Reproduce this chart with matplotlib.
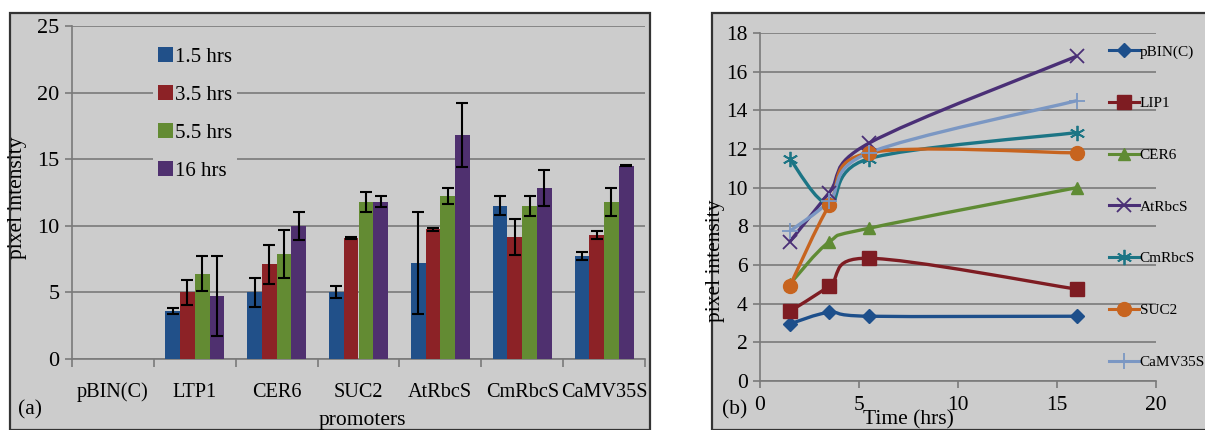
import matplotlib
matplotlib.use("Agg")
import matplotlib.pyplot as plt
import numpy as np
from matplotlib.patches import Rectangle, PathPatch
from matplotlib.path import Path

plt.rcParams['font.family'] = ['Liberation Serif', 'DejaVu Serif']

# ---- panel (a): bar chart data ----
promoters = ['pBIN(C)', 'LTP1', 'CER6', 'SUC2', 'AtRbcS', 'CmRbcS', 'CaMV35S']
bar_labels = ['1.5 hrs', '3.5 hrs', '5.5 hrs', '16 hrs']
h1_5 = [0, 3.6, 5.0, 5.0, 7.2, 11.5, 7.75]
h3_5 = [0, 5.0, 7.1, 9.1, 9.75, 9.15, 9.3]
h5_5 = [0, 6.4, 7.9, 11.8, 12.25, 11.5, 11.8]
h16 = [0, 4.7, 10.0, 11.8, 16.8, 12.85, 14.5]
err1_5 = [0, 0.2, 1.1, 0.45, 3.85, 0.7, 0.3]
err3_5 = [0, 0.95, 1.45, 0.08, 0.12, 1.35, 0.3]
err5_5 = [0, 1.3, 1.8, 0.75, 0.6, 0.75, 1.05]
err16 = [0, 3.0, 1.05, 0.4, 2.4, 1.35, 0.04]

# ---- panel (b): time course data ----
times = [1.5, 3.5, 5.5, 16]
line_names = ['pBIN(C)', 'LIP1', 'CER6', 'AtRbcS', 'CmRbcS', 'SUC2', 'CaMV35S']
pbin = [2.95, 3.55, 3.35, 3.35]
lip1 = [3.6, 4.9, 6.35, 4.75]
cer6 = [5.0, 7.2, 7.9, 10.0]
atrbcs = [7.2, 9.75, 12.3, 16.8]
cmrbcs = [11.5, 9.15, 11.5, 12.85]
suc2 = [4.9, 9.1, 11.8, 11.8]
camv = [7.75, 9.3, 11.8, 14.5]

bg = '#cccccc'
grid_c = '#7a7a7a'
bar_colors = ['#215089', '#8c2226', '#638b33', '#4f306f']
line_colors = ['#1d4f8b', '#7e1c22', '#5f8b34', '#4a2f76', '#1c7585', '#c7641f', '#7b97c3']
markers = ['D', 's', '^', 'x', (6, 2, 0), 'o', '+']
msizes = [7, 10, 9, 10, 11, 10, 11]

W, H = 1205, 430
fig = plt.figure(figsize=(W / 100, H / 100), dpi=100)

def fx(px):
    return px / W

def fy(py):
    return 1 - py / H

# gray panels with dark frame
for x0, x1 in [(10, 650), (712, 1210)]:
    fig.patches.append(Rectangle((fx(x0), 0), fx(x1 - x0), fy(13), transform=fig.transFigure,
                                 facecolor=bg, edgecolor='#333333', linewidth=1.6, zorder=-5))

# ---------- (a) ----------
ax = fig.add_axes([fx(72), fy(359), fx(645 - 72), (359 - 26) / H])
ax.set_facecolor('none')
x = np.arange(len(promoters))
bw = 0.18
series = [h1_5, h3_5, h5_5, h16]
errs = [err1_5, err3_5, err5_5, err16]
for i, (vals, e) in enumerate(zip(series, errs)):
    pos = x + (i - 1.5) * bw
    ax.bar(pos, vals, bw, color=bar_colors[i], label=bar_labels[i], zorder=3)
    ax.errorbar(pos[1:], vals[1:], yerr=e[1:], fmt='none', ecolor='black',
                elinewidth=1.5, capsize=4.5, capthick=1.5, zorder=4)
ax.set_ylim(0, 25)
ax.set_yticks(range(0, 26, 5))
ax.set_xlim(-0.5, len(promoters) - 0.5)
ax.set_xticks(x)
ax.set_xticklabels(promoters, fontsize=14.6)
ax.set_xticks(np.arange(-0.5, len(promoters)), minor=True)
ax.tick_params(axis='x', which='major', length=0, pad=17)
ax.tick_params(axis='x', which='minor', length=6, color=grid_c, width=1.2, direction='out')
ax.tick_params(axis='y', labelsize=16, length=5, color=grid_c, width=1.2, pad=4)
ax.grid(axis='y', color=grid_c, linewidth=1.2, zorder=0)
ax.set_axisbelow(True)
for s in ['top', 'right']:
    ax.spines[s].set_visible(False)
for s in ['left', 'bottom']:
    ax.spines[s].set_color(grid_c)
    ax.spines[s].set_linewidth(1.2)
ax.set_ylabel('pixel intensity', fontsize=15.5, labelpad=0)
ax.yaxis.set_label_coords((27 - 72) / 573, (359 - 198) / 333)
leg = ax.legend(loc='upper left', bbox_to_anchor=(fx(153), fy(42)), bbox_transform=fig.transFigure,
                fontsize=15, frameon=True, facecolor=bg, edgecolor='none', framealpha=1,
                handlelength=0.7, handleheight=0.7, handletextpad=0.1, labelspacing=0.88,
                borderpad=0.25, borderaxespad=0, fancybox=False)
fig.text(fx(362), fy(420), 'promoters', fontsize=15.5, ha='center', va='center')
fig.text(fx(18), fy(410), '(a)', fontsize=15.5, ha='left', va='center')

# ---------- (b) ----------
bx = fig.add_axes([fx(760), fy(381), fx(1156 - 760), (381 - 33) / H])
bx.set_facecolor('none')

def smooth_path(xs, ys):
    # Excel-style smoothed line: cubic Bezier with Catmull-Rom control points
    pts = np.column_stack([xs, ys]).astype(float)
    n = len(pts)
    verts = [pts[0]]
    codes = [Path.MOVETO]
    for i in range(n - 1):
        p0 = pts[i - 1] if i > 0 else pts[i]
        p1 = pts[i]
        p2 = pts[i + 1]
        p3 = pts[i + 2] if i + 2 < n else pts[i + 1]
        c1 = p1 + (p2 - p0) / 6
        c2 = p2 - (p3 - p1) / 6
        verts += [c1, c2, p2]
        codes += [Path.CURVE4] * 3
    return Path(verts, codes)

line_data = [pbin, lip1, cer6, atrbcs, cmrbcs, suc2, camv]
for name, ys, c, m, ms in zip(line_names, line_data, line_colors, markers, msizes):
    bx.add_patch(PathPatch(smooth_path(times, ys), facecolor='none', edgecolor=c, linewidth=2.4, zorder=3))
    mew = 1.3 if m in ('x', '+') or isinstance(m, tuple) else 1
    bx.plot(times, ys, linestyle='none', marker=m, markersize=ms, color=c, markeredgewidth=mew, zorder=4)
    bx.plot([], [], color=c, linewidth=2.2, marker=m, markersize=ms, markeredgewidth=mew, label=name)

bx.set_xlim(0, 20)
bx.set_ylim(0, 18)
bx.set_xticks(range(0, 21, 5))
bx.set_yticks(range(0, 19, 2))
bx.tick_params(axis='x', labelsize=15.5, length=5, color=grid_c, width=1.2, pad=6)
bx.tick_params(axis='y', labelsize=15.5, length=5, color=grid_c, width=1.2, pad=4)
bx.grid(axis='y', color=grid_c, linewidth=1.2, zorder=0)
bx.set_axisbelow(True)
for s in ['top', 'right']:
    bx.spines[s].set_visible(False)
for s in ['left', 'bottom']:
    bx.spines[s].set_color(grid_c)
    bx.spines[s].set_linewidth(1.2)
bx.set_ylabel('pixel intensity', fontsize=15.5, labelpad=0)
bx.yaxis.set_label_coords((725 - 760) / 396, (381 - 261) / 348)
fig.text(fx(908), fy(420), 'Time (hrs)', fontsize=15.5, ha='center', va='center')
fig.text(fx(722), fy(410), '(b)', fontsize=15.5, ha='left', va='center')
bx.legend(loc='upper left', bbox_to_anchor=(fx(1101), fy(37)), bbox_transform=fig.transFigure,
          fontsize=11, frameon=False, handlelength=2.0, handletextpad=0.03, labelspacing=2.49,
          borderpad=0)

fig.savefig('out.png', dpi=100)
